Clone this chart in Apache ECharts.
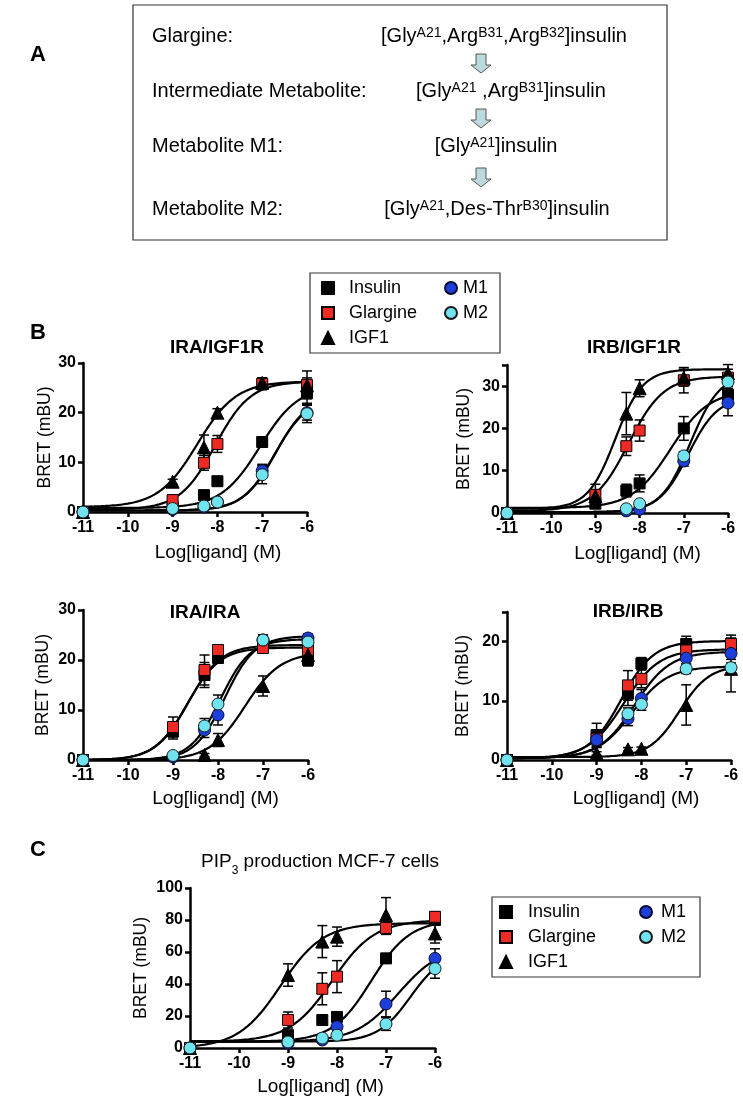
<!DOCTYPE html>
<html><head><meta charset="utf-8">
<script src="https://cdn.jsdelivr.net/npm/echarts@6/dist/echarts.min.js"></script>
<style>html,body{margin:0;padding:0;background:#fff}#c{width:743px;height:1103px}</style>
</head><body><div id="c"></div>
<script>
// ---------------- DATA ----------------
const doses = [-11, -9, -8.3, -8, -7, -6];
const seriesNames = ['Insulin', 'Glargine', 'IGF1', 'M1', 'M2'];
const xTickValues = [-11, -10, -9, -8, -7, -6];

// rows: Insulin, Glargine, IGF1, M1, M2 ; columns follow doses
const iraIgf1rMean = [
  [0, 1.0, 3.4, 6.2, 14.1, 23.9],
  [0, 2.4, 9.9, 13.7, 25.8, 25.6],
  [0, 6.1, 13.0, 20.0, 26.0, 25.5],
  [0, 0.5, 1.0, 2.0, 8.3, 20.0],
  [0, 0.7, 1.2, 2.0, 7.5, 19.8]
];
const iraIgf1rSem = [
  [0, 0.3, 0.5, 0.6, 1.0, 2.0],
  [0, 0.5, 1.5, 1.7, 1.2, 2.8],
  [0, 0.5, 2.5, 0.8, 1.0, 1.5],
  [0, 0.2, 0.3, 0.4, 1.3, 1.5],
  [0, 0.2, 0.3, 0.4, 1.8, 1.8]
];
// fit parameters: [bottom, top, logEC50, hill]
const iraIgf1rFit = [
  [0.8, 25.5, -7.05, 1.0],
  [0.5, 26.3, -8.05, 1.1],
  [1.0, 26.3, -8.45, 1.0],
  [0.3, 23.5, -6.70, 1.2],
  [0.3, 23.0, -6.72, 1.2]
];

const irbIgf1rMean = [
  [0, 2.2, 5.3, 7.0, 20.0, 28.0],
  [0, 4.3, 15.8, 19.5, 31.4, 32.0],
  [0, 4.0, 23.5, 29.5, 32.0, 33.1],
  [0, null, 0.5, 0.9, 12.3, 26.0],
  [0, null, 1.0, 2.2, 13.5, 31.0]
];
const irbIgf1rSem = [
  [0, 0.5, 1.5, 2.0, 2.8, 2.0],
  [0, 2.5, 2.2, 2.5, 3.0, 2.0],
  [0, 1.5, 5.0, 2.0, 2.0, 2.0],
  [0, 0, 0.3, 0.3, 1.2, 3.0],
  [0, 0, 0.3, 0.3, 1.0, 1.5]
];
const irbIgf1rFit = [
  [1.2, 29.0, -7.30, 1.0],
  [0.5, 32.3, -8.25, 1.1],
  [1.0, 34.0, -8.55, 1.4],
  [0.2, 27.5, -6.90, 1.3],
  [0.2, 33.0, -6.85, 1.3]
];

const iraIraMean = [
  [0, 5.7, 17.0, 20.4, 22.5, 20.0],
  [0, 6.6, 18.0, 22.0, 22.4, 22.0],
  [0, null, 1.0, 4.0, 14.8, 21.0],
  [0, 0.6, 6.0, 9.0, 24.0, 24.4],
  [0, 0.9, 6.8, 11.2, 24.0, 23.6]
];
const iraIraSem = [
  [0, 1.5, 2.5, 1.0, 1.0, 1.2],
  [0, 2.0, 3.0, 0.8, 1.0, 1.0],
  [0, 0, 0.3, 1.3, 2.0, 1.5],
  [0, 0.2, 1.5, 2.0, 1.0, 0.8],
  [0, 0.2, 1.5, 1.8, 1.0, 0.8]
];
const iraIraFit = [
  [0, 22.5, -8.68, 1.2],
  [0, 23.0, -8.66, 1.2],
  [0, 21.5, -7.40, 1.1],
  [0, 24.8, -7.85, 1.3],
  [0, 24.2, -7.95, 1.3]
];

const irbIrbMean = [
  [0, 4.2, 11.2, 16.3, 19.6, 19.4],
  [0, 3.6, 12.6, 13.7, 18.5, 19.6],
  [0, 1.1, 1.8, 1.9, 9.3, 15.4],
  [0, 3.4, 7.0, 10.4, 17.2, 18.0],
  [0, null, 7.8, 9.4, 15.4, 15.6]
];
const irbIrbSem = [
  [0, 2.0, 2.0, 1.0, 1.3, 1.2],
  [0, 1.5, 2.5, 1.5, 1.0, 1.5],
  [0, 0.3, 0.3, 0.3, 3.4, 3.9],
  [0, 1.0, 1.2, 1.5, 1.0, 1.0],
  [0, 0, 1.0, 1.0, 0.8, 0.8]
];
const irbIrbFit = [
  [0.3, 20.1, -8.45, 1.2],
  [0.3, 18.7, -8.40, 1.1],
  [0.5, 16.0, -7.15, 1.3],
  [0.3, 18.3, -8.15, 1.1],
  [0.3, 15.8, -8.20, 1.1]
];

const pip3Mean = [
  [0, 8.0, 17.5, 19.4, 56.0, 80.0],
  [0, 17.5, 37.0, 44.6, 75.0, 82.0],
  [0, 45.6, 66.5, 69.6, 83.0, 71.6],
  [0, 3.0, 5.0, 13.3, 27.5, 56.0],
  [0, 3.8, 6.2, 8.0, 15.0, 49.6]
];
const pip3Sem = [
  [0, 1.0, 1.0, 2.0, 3.0, 3.0],
  [0, 5.0, 10.0, 10.0, 4.0, 3.0],
  [0, 7.0, 10.0, 6.0, 11.0, 6.0],
  [0, 0.5, 1.0, 2.0, 8.0, 6.0],
  [0, 0.5, 1.0, 1.0, 4.0, 6.0]
];
const pip3Fit = [
  [4, 80, -7.30, 1.1],
  [4, 80, -8.10, 1.0],
  [0, 78, -9.15, 1.0],
  [4, 64, -6.75, 1.0],
  [4, 60, -6.50, 1.3]
];

// ---------------- STYLE / LAYOUT ----------------
const FONT = '"Liberation Sans", Arial, Helvetica, sans-serif';
const markers = [
  {symbol: 'rect', size: 11, color: '#000000', border: '#000000'},
  {symbol: 'rect', size: 11, color: '#ee2a24', border: '#000000'},
  {symbol: 'triangle', size: 13, color: '#000000', border: '#000000'},
  {symbol: 'circle', size: 12, color: '#1b3fd8', border: '#0a0a30'},
  {symbol: 'circle', size: 12, color: '#6fe3ee', border: '#1a1a1a'}
];

const panels = [
  {mean: iraIgf1rMean, sem: iraIgf1rSem, fit: iraIgf1rFit, title: 'IRA/IGF1R', tx: 217, ty: 348,
   grid: {left: 83, top: 363, width: 224, height: 149}, yMax: 30, yInt: 10,
   yLabels: [0, 10, 20, 30], yTicks: [0, 10, 20, 30], yNameGap: 29, xNameGap: 31, xShift: 23},
  {mean: irbIgf1rMean, sem: irbIgf1rSem, fit: irbIgf1rFit, title: 'IRB/IGF1R', tx: 634, ty: 348,
   grid: {left: 507, top: 365, width: 221, height: 148}, yMax: 35, yInt: 10,
   yLabels: [0, 10, 20, 30], yTicks: [0, 10, 20, 30, 35], yNameGap: 34, xNameGap: 31, xShift: 20},
  {mean: iraIraMean, sem: iraIraSem, fit: iraIraFit, title: 'IRA/IRA', tx: 205, ty: 613,
   grid: {left: 83, top: 610, width: 225, height: 150}, yMax: 30, yInt: 10,
   yLabels: [0, 10, 20, 30], yTicks: [0, 10, 20, 30], yNameGap: 31, xNameGap: 29, xShift: 20},
  {mean: irbIrbMean, sem: irbIrbSem, fit: irbIrbFit, title: 'IRB/IRB', tx: 628, ty: 612,
   grid: {left: 507, top: 612, width: 224, height: 148}, yMax: 25, yInt: 10,
   yLabels: [0, 10, 20], yTicks: [0, 10, 20, 25], yNameGap: 35, xNameGap: 29, xShift: 17},
  {mean: pip3Mean, sem: pip3Sem, fit: pip3Fit, title: null, tx: 320, ty: 862,
   grid: {left: 190, top: 888, width: 245, height: 160}, yMax: 100, yInt: 20,
   yLabels: [0, 20, 40, 60, 80, 100], yTicks: [0, 20, 40, 60, 80, 100], yNameGap: 40, xNameGap: 29, xShift: 8}
];

function fitCurve(p) {
  const pts = [];
  for (let i = 0; i <= 100; i++) {
    const x = -11 + i * 0.05;
    pts.push([x, p[0] + (p[1] - p[0]) / (1 + Math.pow(10, (p[2] - x) * p[3]))]);
  }
  return pts;
}

function errRender(params, api) {
  const x = api.value(0), lo = api.value(1), hi = api.value(2);
  const a = api.coord([x, lo]), b = api.coord([x, hi]);
  const w = 5, st = {stroke: '#000', lineWidth: 1.5};
  return {type: 'group', children: [
    {type: 'line', shape: {x1: a[0], y1: a[1], x2: b[0], y2: b[1]}, style: st},
    {type: 'line', shape: {x1: b[0] - w, y1: b[1], x2: b[0] + w, y2: b[1]}, style: st},
    {type: 'line', shape: {x1: a[0] - w, y1: a[1], x2: a[0] + w, y2: a[1]}, style: st}
  ]};
}

const grids = [], xAxes = [], yAxes = [], series = [];
const axisLineStyle = {color: '#000', width: 2.5};
panels.forEach((p, gi) => {
  grids.push(Object.assign({containLabel: false}, p.grid));
  xAxes.push({
    gridIndex: gi, type: 'value', min: -11, max: -6, interval: 1,
    axisLine: {show: true, onZero: false, lineStyle: axisLineStyle},
    axisTick: {show: true, length: 5, lineStyle: {color: '#000', width: 2.5}},
    axisLabel: {color: '#000', fontFamily: FONT, fontWeight: 'bold', fontSize: 16, margin: 8},
    splitLine: {show: false},
    name: 'Log[ligand] (M)', nameLocation: 'middle', nameGap: p.xNameGap,
    nameTextStyle: {color: '#000', fontFamily: FONT, fontSize: 19, padding: [0, 0, 0, p.xShift * 2]}
  });
  yAxes.push({
    gridIndex: gi, type: 'value', min: 0, max: p.yMax, interval: p.yInt,
    axisLine: {show: true, lineStyle: axisLineStyle},
    axisTick: {show: true, length: 5, customValues: p.yTicks, lineStyle: {color: '#000', width: 2.5}},
    axisLabel: {color: '#000', fontFamily: FONT, fontWeight: 'bold', fontSize: 16, margin: 7,
      customValues: p.yLabels, formatter: v => (p.yLabels.indexOf(v) >= 0 ? String(v) : '')},
    splitLine: {show: false},
    name: 'BRET (mBU)', nameLocation: 'middle', nameGap: p.yNameGap, nameRotate: 90,
    nameTextStyle: {color: '#000', fontFamily: FONT, fontSize: 17.5}
  });
  p.fit.forEach((f, si) => {
    series.push({type: 'line', name: 'fit-' + seriesNames[si], xAxisIndex: gi, yAxisIndex: gi,
      data: fitCurve(f), showSymbol: false, symbol: 'none', smooth: false, silent: true,
      lineStyle: {color: '#000', width: 2.2}, z: 2});
  });
  p.mean.forEach((row, si) => {
    const d = [];
    row.forEach((v, k) => {
      const e = p.sem[si][k];
      if (v !== null && e) d.push([doses[k], v - e, v + e]);
    });
    series.push({type: 'custom', name: 'err-' + seriesNames[si], xAxisIndex: gi, yAxisIndex: gi,
      renderItem: errRender, data: d, encode: {x: 0, y: [1, 2]}, silent: true, z: 3});
  });
  p.mean.forEach((row, si) => {
    const m = markers[si];
    const d = [];
    row.forEach((v, k) => { if (v !== null) d.push([doses[k], v]); });
    series.push({type: 'scatter', name: seriesNames[si], xAxisIndex: gi, yAxisIndex: gi,
      data: d, symbol: m.symbol, symbolSize: m.size,
      itemStyle: {color: m.color, borderColor: m.border, borderWidth: 1, opacity: 1},
      z: 4 + si});
  });
});

const legendText = {color: '#000', fontFamily: FONT, fontSize: 18, lineHeight: 20};
function legend(left, top, names, pad) {
  return {left: left, top: top, orient: 'vertical', data: names, itemWidth: 12, itemHeight: 12,
    itemGap: 5, selectedMode: false, padding: 0,
    textStyle: Object.assign({padding: [0, 0, 0, pad]}, legendText)};
}

const boldLetter = {fontFamily: FONT, fontWeight: 'bold', fontSize: 22, fill: '#000'};
const aText = {fontFamily: FONT, fontSize: 20, fill: '#000'};
const supRich = {s: {fontFamily: FONT, fontSize: 14, verticalAlign: 'top', lineHeight: 13}};

function arrow(cx, top) {
  const sw = 5, hw = 10, sh = 11, hh = 8;
  return {type: 'polygon', shape: {points: [
    [cx - sw, top], [cx + sw, top], [cx + sw, top + sh], [cx + hw, top + sh],
    [cx, top + sh + hh], [cx - hw, top + sh], [cx - sw, top + sh]]},
    style: {fill: '#bcdadd', stroke: '#555', lineWidth: 1}};
}

const graphics = [
  {type: 'rect', shape: {x: 133, y: 5, width: 534, height: 235}, style: {fill: 'none', stroke: '#333', lineWidth: 1.2}},
  {type: 'text', x: 30, y: 55, style: Object.assign({text: 'A', verticalAlign: 'middle'}, boldLetter)},
  {type: 'text', x: 30, y: 333, style: Object.assign({text: 'B', verticalAlign: 'middle'}, boldLetter)},
  {type: 'text', x: 30, y: 850, style: Object.assign({text: 'C', verticalAlign: 'middle'}, boldLetter)},
  {type: 'text', x: 152, y: 36, style: Object.assign({text: 'Glargine:', verticalAlign: 'middle'}, aText)},
  {type: 'text', x: 152, y: 91, style: Object.assign({text: 'Intermediate Metabolite:', verticalAlign: 'middle'}, aText)},
  {type: 'text', x: 152, y: 146, style: Object.assign({text: 'Metabolite M1:', verticalAlign: 'middle'}, aText)},
  {type: 'text', x: 152, y: 209, style: Object.assign({text: 'Metabolite M2:', verticalAlign: 'middle'}, aText)},
  {type: 'text', x: 504, y: 36, style: Object.assign({text: '[Gly{s|A21},Arg{s|B31},Arg{s|B32}]insulin', align: 'center', verticalAlign: 'middle', rich: supRich}, aText)},
  {type: 'text', x: 511, y: 91, style: Object.assign({text: '[Gly{s|A21} ,Arg{s|B31}]insulin', align: 'center', verticalAlign: 'middle', rich: supRich}, aText)},
  {type: 'text', x: 496, y: 146, style: Object.assign({text: '[Gly{s|A21}]insulin', align: 'center', verticalAlign: 'middle', rich: supRich}, aText)},
  {type: 'text', x: 497, y: 209, style: Object.assign({text: '[Gly{s|A21},Des-Thr{s|B30}]insulin', align: 'center', verticalAlign: 'middle', rich: supRich}, aText)},
  arrow(481, 54), arrow(481, 109), arrow(481, 168),
  {type: 'rect', shape: {x: 310, y: 273, width: 190, height: 80}, style: {fill: '#fff', stroke: '#333', lineWidth: 1.2}, z: -1},
  {type: 'rect', shape: {x: 492, y: 897, width: 208, height: 80}, style: {fill: '#fff', stroke: '#333', lineWidth: 1.2}, z: -1}
];
panels.forEach(p => {
  if (p.title) {
    graphics.push({type: 'text', x: p.tx, y: p.ty, style: {text: p.title, align: 'center', verticalAlign: 'middle',
      fontFamily: FONT, fontWeight: 'bold', fontSize: 19, fill: '#000'}});
  } else {
    graphics.push({type: 'text', x: p.tx, y: p.ty, style: {text: 'PIP{b|3} production MCF-7 cells', align: 'center', verticalAlign: 'middle',
      fontFamily: FONT, fontSize: 19, fill: '#000',
      rich: {b: {fontFamily: FONT, fontSize: 12, verticalAlign: 'bottom', lineHeight: 12, padding: [0, 0, -5, 0]}}}});
  }
});

const chart = echarts.init(document.getElementById('c'), null, {renderer: 'canvas', width: 743, height: 1103});
chart.setOption({
  backgroundColor: '#ffffff',
  animation: false,
  grid: grids, xAxis: xAxes, yAxis: yAxes, series: series,
  legend: [
    legend(321, 278, ['Insulin', 'Glargine', 'IGF1'], 10),
    legend(444, 278, ['M1', 'M2'], 1),
    legend(499, 902, ['Insulin', 'Glargine', 'IGF1'], 11),
    legend(639, 902, ['M1', 'M2'], 4)
  ],
  graphic: graphics
});
</script></body></html>
